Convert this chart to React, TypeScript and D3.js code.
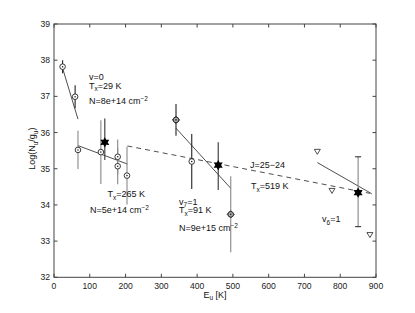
import React from 'react';
import * as d3 from 'd3';

// rotation diagram data: E_u [K], Log(N_u/g_u), lower err, upper err, dark bar?
const circlePoints: [number, number, number, number, boolean][] = [
  [24, 37.82, 0.18, 0.18, true],
  [59, 36.99, 0.32, 0.32, true],
  [67, 35.52, 0.53, 0.53, false],
  [131, 35.46, 0.88, 0.88, false],
  [178, 35.33, 0.48, 0.48, false],
  [178, 35.07, 0.5, 0.5, false],
  [204, 34.81, 0.8, 0.8, false],
  [341, 36.35, 0.44, 0.44, true],
  [385, 35.2, 0.76, 0.76, true],
  [494, 33.74, 1.05, 1.05, false],
];
const diamondAt = [341, 494];

const starPoints: [number, number, number, number][] = [
  [142, 35.73, 0.49, 0.66],
  [459, 35.1, 0.69, 0.63],
  [850, 34.34, 0.94, 0.99],
];

const triPoints: [number, number][] = [
  [736, 35.47],
  [777, 34.39],
  [883, 33.17],
];

// fitted lines [E1, y1, E2, y2]
const fitLines: [number, number, number, number][] = [
  [24, 37.78, 67, 36.37],
  [67, 35.64, 205, 35.13],
  [341, 36.12, 494, 34.46],
  [736, 35.17, 888, 34.31],
];
const dashedFit: [number, number, number, number] = [205, 35.63, 883, 34.32];

const xTicks = [0, 100, 200, 300, 400, 500, 600, 700, 800, 900];
const yTicks = [32, 33, 34, 35, 36, 37, 38, 39];

const W = 415;
const H = 313;
const FONT = "'Liberation Sans', Arial, Helvetica, sans-serif";

const x = d3.scaleLinear().domain([0, 900]).range([54, 376]);
const y = d3.scaleLinear().domain([32, 39]).range([277.3, 24]);

const starPath = (() => {
  const pts: string[] = [];
  for (let i = 0; i < 12; i++) {
    const a = (Math.PI / 6) * i - Math.PI / 2;
    const r = i % 2 === 0 ? 5.2 : 2.9;
    pts.push(`${(r * Math.cos(a)).toFixed(2)},${(r * Math.sin(a)).toFixed(2)}`);
  }
  return 'M' + pts.join('L') + 'Z';
})();

const Lbl = ({ px, py, children, size = 9 }: any) => (
  <text x={px} y={py} fontSize={size} fontFamily={FONT} fill="#111">
    {children}
  </text>
);

const sub = (s: string) => (
  <tspan dy={2.5} fontSize={6.5}>
    {s}
  </tspan>
);
const sup = (s: string) => (
  <tspan dy={-3.5} fontSize={6.5}>
    {s}
  </tspan>
);

export default function App() {
  const [x0, x1] = x.range();
  const [y0, y1] = y.range();
  const tick = 3.5;
  return (
    <svg width={W} height={H} style={{ position: 'absolute', left: 0, top: 0, background: '#fff' }}>
      {/* axes box */}
      <rect x={x0} y={y1} width={x1 - x0} height={y0 - y1} fill="none" stroke="#444" strokeWidth={1} />
      {xTicks.map((t) => (
        <g key={'x' + t}>
          <line x1={x(t)} x2={x(t)} y1={y0} y2={y0 - tick} stroke="#444" />
          <line x1={x(t)} x2={x(t)} y1={y1} y2={y1 + tick} stroke="#444" />
          <text x={x(t)} y={289} textAnchor="middle" fontSize={8.6} fontFamily={FONT} fill="#222">
            {t}
          </text>
        </g>
      ))}
      {yTicks.map((t) => (
        <g key={'y' + t}>
          <line x1={x0} x2={x0 + tick} y1={y(t)} y2={y(t)} stroke="#444" />
          <line x1={x1} x2={x1 - tick} y1={y(t)} y2={y(t)} stroke="#444" />
          <text x={50} y={y(t) + 3} textAnchor="end" fontSize={8.6} fontFamily={FONT} fill="#222">
            {t}
          </text>
        </g>
      ))}

      {/* fit lines */}
      {fitLines.map((l, i) => (
        <line key={'f' + i} x1={x(l[0])} y1={y(l[1])} x2={x(l[2])} y2={y(l[3])} stroke="#222" strokeWidth={0.8} />
      ))}
      <line
        x1={x(dashedFit[0])}
        y1={y(dashedFit[1])}
        x2={x(dashedFit[2])}
        y2={y(dashedFit[3])}
        stroke="#222"
        strokeWidth={0.8}
        strokeDasharray="5,4"
      />

      {/* error bars */}
      {circlePoints.map((p, i) => (
        <line
          key={'e' + i}
          x1={x(p[0])}
          x2={x(p[0])}
          y1={y(p[1] - p[2])}
          y2={y(p[1] + p[3])}
          stroke={p[4] ? '#222' : '#888'}
          strokeWidth={1.1}
        />
      ))}
      {starPoints.map((p, i) => (
        <g key={'se' + i} stroke={i === 2 ? '#888' : '#333'} strokeWidth={1.1}>
          <line x1={x(p[0])} x2={x(p[0])} y1={y(p[1] - p[2])} y2={y(p[1] + p[3])} />
          {i === 2 && (
            <>
              <line x1={x(p[0]) - 3} x2={x(p[0]) + 3} y1={y(p[1] - p[2])} y2={y(p[1] - p[2])} stroke="#333" />
              <line x1={x(p[0]) - 3} x2={x(p[0]) + 3} y1={y(p[1] + p[3])} y2={y(p[1] + p[3])} stroke="#333" />
            </>
          )}
        </g>
      ))}

      {/* markers */}
      {circlePoints.map((p, i) => (
        <g key={'c' + i} transform={`translate(${x(p[0])},${y(p[1])})`}>
          {diamondAt.includes(p[0]) && <path d="M0,-3.6L3.6,0L0,3.6L-3.6,0Z" fill="#666" stroke="#222" strokeWidth={0.8} />}
          <circle r={2.8} fill={diamondAt.includes(p[0]) ? '#aaa' : '#fff'} stroke="#222" strokeWidth={0.9} />
          <circle r={0.8} fill="#222" />
        </g>
      ))}
      {starPoints.map((p, i) => (
        <path key={'s' + i} d={starPath} transform={`translate(${x(p[0])},${y(p[1])})`} fill="#000" />
      ))}
      {triPoints.map((p, i) => (
        <path
          key={'t' + i}
          d="M-3,-2.4L3,-2.4L0,2.6Z"
          transform={`translate(${x(p[0])},${y(p[1])})`}
          fill="#fff"
          stroke="#222"
          strokeWidth={0.8}
        />
      ))}

      {/* annotations */}
      <Lbl px={89} py={79.5}>v=0</Lbl>
      <Lbl px={89} py={88.5}>T{sub('x')}<tspan dy={-2.5}>=29 K</tspan></Lbl>
      <Lbl px={89} py={104}>N=8e+14 cm{sup('−2')}</Lbl>
      <Lbl px={107.5} py={197}>T{sub('x')}<tspan dy={-2.5}>=265 K</tspan></Lbl>
      <Lbl px={90} py={213}>N=5e+14 cm{sup('−2')}</Lbl>
      <Lbl px={179} py={204.5}>v{sub('7')}<tspan dy={-2.5}>=1</tspan></Lbl>
      <Lbl px={179} py={213}>T{sub('x')}<tspan dy={-2.5}>=91 K</tspan></Lbl>
      <Lbl px={179} py={231}>N=9e+15 cm{sup('−2')}</Lbl>
      <Lbl px={250} py={168}>J=25−24</Lbl>
      <Lbl px={251} py={189}>T{sub('x')}<tspan dy={-2.5}>=519 K</tspan></Lbl>
      <Lbl px={322} py={222}>v{sub('6')}<tspan dy={-2.5}>=1</tspan></Lbl>

      {/* axis labels */}
      <text x={(x0 + x1) / 2} y={297.5} textAnchor="middle" fontSize={9} fontFamily={FONT} fill="#111">
        E{sub('u')}
        <tspan dy={-2.5}> [K]</tspan>
      </text>
      <text
        transform={`translate(35,${(y0 + y1) / 2 - 2}) rotate(-90)`}
        textAnchor="middle"
        fontSize={9}
        fontFamily={FONT}
        fill="#111"
      >
        Log(N{sub('u')}
        <tspan dy={-2.5}>/g</tspan>
        {sub('u')}
        <tspan dy={-2.5}>)</tspan>
      </text>
    </svg>
  );
}
